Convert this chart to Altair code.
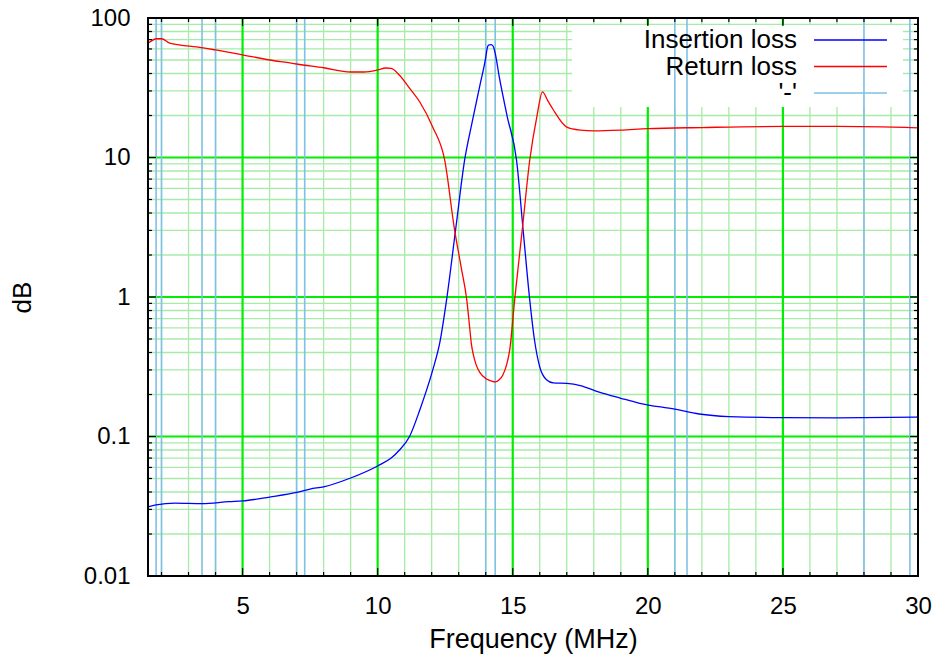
import altair as alt
import pandas as pd

# ---------------- data ----------------
il_freq = [1.5, 1.8, 2.5, 3.5, 4.5, 5.0, 6.0, 7.0, 7.5, 8.0, 9.0, 10.0, 10.5, 10.81,
           11.18, 11.56, 12.04, 12.3, 12.55, 12.9, 13.22, 13.5, 13.8, 14.0, 14.05,
           14.1, 14.2, 14.27, 14.35, 14.5, 14.8, 15.14, 15.4, 15.63, 15.8, 16.0,
           16.25, 16.5, 17.0, 17.5, 18.2, 19.0, 19.7, 21.0, 21.9, 23.0, 25.0, 27.0,
           29.0, 30.0]
il_db = [0.0313, 0.0323, 0.0333, 0.0330, 0.0341, 0.0345, 0.0368, 0.0397, 0.042,
         0.0436, 0.0504, 0.0615, 0.070, 0.080, 0.100, 0.155, 0.30, 0.47, 0.95, 3.2,
         9.6, 18.0, 34.0, 52.0, 60.0, 64.0, 64.5, 63.0, 56.0, 38.0, 19.5, 9.6, 2.8,
         0.95, 0.50, 0.315, 0.255, 0.242, 0.240, 0.232, 0.208, 0.188, 0.173, 0.157,
         0.145, 0.139, 0.1365, 0.1362, 0.137, 0.138]

rl_freq = [1.5, 1.6, 1.8, 2.0, 2.3, 2.7, 3.3, 4.0, 5.0, 6.0, 6.8, 7.0, 8.0, 9.0, 9.5,
           10.0, 10.3, 10.5, 10.8, 11.2, 11.56, 12.04, 12.48, 12.85, 13.1, 13.3,
           13.4, 13.47, 13.55, 13.65, 13.78, 14.03, 14.2, 14.36, 14.5, 14.63, 14.78,
           14.89, 15.07, 15.35, 15.63, 15.9, 16.1, 16.3, 16.5, 17.0, 17.5, 18.0, 19.0,
           20.0, 22.0, 25.0, 27.0, 30.0]
rl_db = [66.0, 68.0, 71.0, 71.0, 66.0, 64.0, 62.0, 59.0, 54.5, 50.0, 47.5, 46.8, 44.0,
         41.0, 41.0, 42.4, 43.8, 43.5, 39.0, 31.0, 25.0, 16.5, 9.6, 3.0, 1.6, 0.95,
         0.62, 0.46, 0.38, 0.325, 0.288, 0.258, 0.25, 0.246, 0.255, 0.275, 0.33, 0.42,
         0.95, 3.0, 9.6, 20.0, 29.5, 25.5, 22.0, 16.5, 15.7, 15.5, 15.7, 16.1, 16.4,
         16.7, 16.7, 16.3]

band_edges = [1.8, 2.0, 3.5, 4.0, 7.0, 7.3, 14.0, 14.35, 21.0, 21.45, 28.0, 29.7]

x_labels = [5, 10, 15, 20, 25, 30]
x_major_grid = [5, 10, 15, 20, 25]
x_minor = [v for v in range(2, 30) if v % 5 != 0]
y_labels = [0.01, 0.1, 1, 10, 100]
y_major_grid = [0.1, 1, 10]
y_minor = [round(k * 10 ** e, 6) for e in range(-2, 2) for k in range(2, 10)]

series_names = ["Insertion loss", "Return loss", "'-'"]
series_colors = ["#0000ff", "#ff0000", "#7fc0e4"]

# ---------------- layout ----------------
W, H = 770, 558
FONT = "Liberation Sans"

curves = pd.concat([
    pd.DataFrame({"f": il_freq, "db": il_db, "series": series_names[0]}),
    pd.DataFrame({"f": rl_freq, "db": rl_db, "series": series_names[1]}),
])

xscale = alt.Scale(domain=[1.5, 30], nice=False, zero=False)
yscale = alt.Scale(type="log", domain=[0.01, 100], nice=False)

xaxis = alt.Axis(values=x_labels, title="Frequency (MHz)", grid=False, ticks=False,
                 tickSize=0, domain=False, labelFontSize=24, labelPadding=18,
                 labelFlush=False, labelOverlap=False, titleFontSize=27,
                 titleFontWeight="normal", titleY=71, titleBaseline="alphabetic",
                 labelColor="black", titleColor="black", labelFont=FONT, titleFont=FONT)
yaxis = alt.Axis(values=y_labels, format="~g", title="dB", grid=False, ticks=False,
                 tickSize=0, domain=False, labelFontSize=24, labelPadding=18,
                 labelFlush=False, labelOverlap=False, titleFontSize=26,
                 titleFontWeight="normal", titleAngle=270, titleX=-126, titleY=H / 2,
                 titleAlign="center", titleBaseline="middle",
                 labelColor="black", titleColor="black", labelFont=FONT, titleFont=FONT)


def xenc(field="v"):
    return alt.X(f"{field}:Q", scale=xscale, axis=xaxis)


def yenc(field="v"):
    return alt.Y(f"{field}:Q", scale=yscale, axis=yaxis)


def df(vals):
    return pd.DataFrame({"v": vals})


one = pd.DataFrame({"a": [0]})

layers = []
# minor grid
layers.append(alt.Chart(df(x_minor)).mark_rule(color="#a6eba6", strokeWidth=1.3).encode(x=xenc()))
layers.append(alt.Chart(df(y_minor)).mark_rule(color="#a6eba6", strokeWidth=1.3).encode(y=yenc()))
# major grid
layers.append(alt.Chart(df(x_major_grid)).mark_rule(color="#00ee00", strokeWidth=2.2).encode(x=xenc()))
layers.append(alt.Chart(df(y_major_grid)).mark_rule(color="#00ee00", strokeWidth=2.2).encode(y=yenc()))
# legend background box (key)
layers.append(alt.Chart(one).mark_rect(color="white").encode(
    x=alt.value(424), x2=alt.value(755), y=alt.value(7), y2=alt.value(89)))
# band edge lines
layers.append(alt.Chart(df(band_edges)).mark_rule(color=series_colors[2], strokeWidth=1.6).encode(x=xenc()))
# curves
layers.append(alt.Chart(curves).mark_line(strokeWidth=1.3, clip=True, interpolate="monotone").encode(
    x=xenc("f"), y=yenc("db"),
    color=alt.Color("series:N", scale=alt.Scale(domain=series_names[:2], range=series_colors[:2]),
                    legend=None)))
# tick marks (inward, all four sides)
xt_major = df(x_labels[:-1])
xt_minor = df(x_minor)
yt_major = df(y_labels[1:-1])
yt_minor = df(y_minor)
for data, ln in ((xt_major, 8), (xt_minor, 4)):
    layers.append(alt.Chart(data).mark_rule(color="black", strokeWidth=1.2).encode(
        x=xenc(), y=alt.value(H), y2=alt.value(H - ln)))
    layers.append(alt.Chart(data).mark_rule(color="black", strokeWidth=1.2).encode(
        x=xenc(), y=alt.value(0), y2=alt.value(ln)))
for data, ln in ((yt_major, 8), (yt_minor, 4)):
    layers.append(alt.Chart(data).mark_rule(color="black", strokeWidth=1.2).encode(
        y=yenc(), x=alt.value(0), x2=alt.value(ln)))
    layers.append(alt.Chart(data).mark_rule(color="black", strokeWidth=1.2).encode(
        y=yenc(), x=alt.value(W), x2=alt.value(W - ln)))
# border
layers.append(alt.Chart(one).mark_rect(filled=False, stroke="black", strokeWidth=2).encode(
    x=alt.value(0), x2=alt.value(W), y=alt.value(0), y2=alt.value(H)))
# legend entries
legend_rows = [(series_names[0], series_colors[0], 30, 22),
               (series_names[1], series_colors[1], 57, 48.5),
               (series_names[2], series_colors[2], 83, 75)]
for name, col, base, ly in legend_rows:
    layers.append(alt.Chart(one).mark_text(text=name, align="right", baseline="alphabetic",
                                           fontSize=26, font=FONT, color="black").encode(
        x=alt.value(649), y=alt.value(base)))
    layers.append(alt.Chart(one).mark_rule(color=col, strokeWidth=1.5).encode(
        x=alt.value(666), x2=alt.value(739), y=alt.value(ly)))

chart = alt.layer(*layers).properties(
    width=W, height=H,
    autosize=alt.AutoSizeParams(type="none"),
    padding={"left": 140, "top": 10, "right": 14, "bottom": 80},
).configure_view(stroke=None).configure(font=FONT)

chart.save("out.html", embed_options={"renderer": "svg", "actions": False})
